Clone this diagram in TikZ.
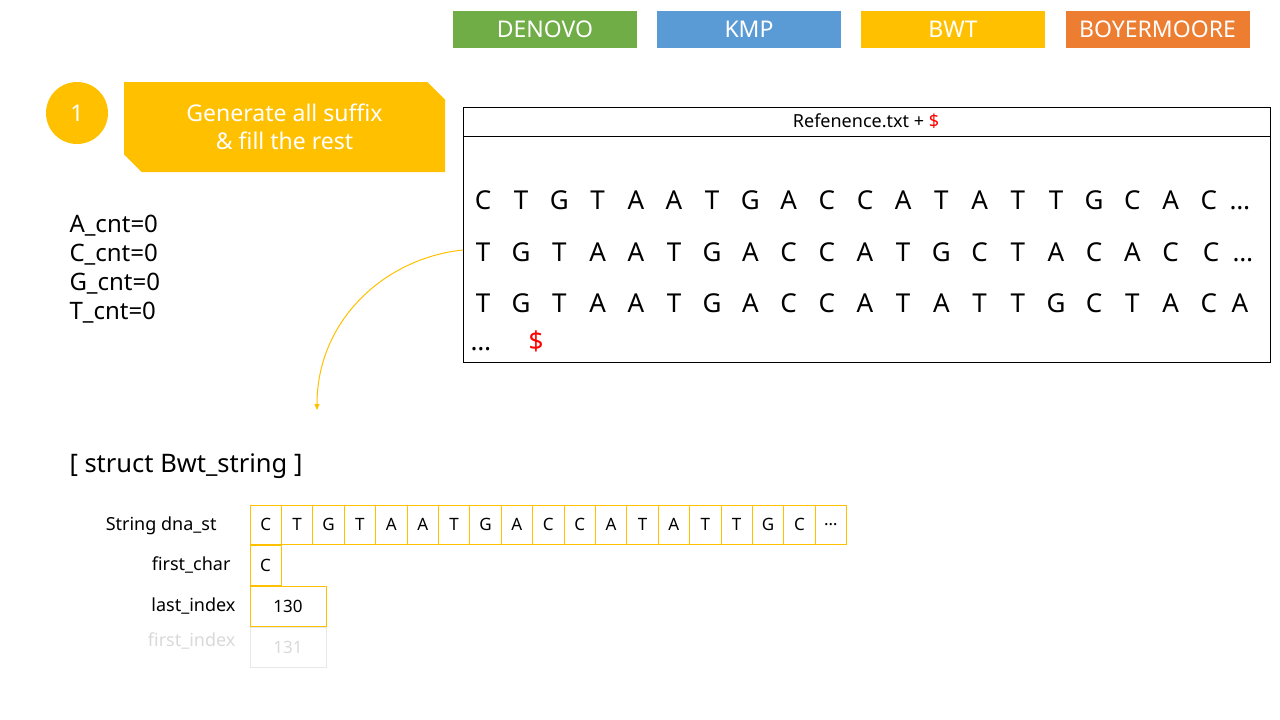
\documentclass[tikz,border=0pt]{standalone}
\usepackage{fontspec}
\setmainfont{Noto Sans}
\usetikzlibrary{shapes.misc,arrows.meta,positioning}
\definecolor{dngreen}{HTML}{70AD47}
\definecolor{kmpblue}{HTML}{5B9BD5}
\definecolor{bwtyellow}{HTML}{FFC000}
\definecolor{bmorange}{HTML}{ED7D31}
\definecolor{fadegray}{HTML}{D9D9D9}
\tikzset{
tab/.style={fill=#1, text=white, minimum width=184pt, minimum height=37pt,
	inner sep=0pt, font=\fontsize{23}{27}\selectfont},
seq/.style={anchor=base, inner sep=0pt, font=\fontsize{26}{30}\selectfont},
cell/.style={draw=bwtyellow, line width=1pt, minimum height=39pt, inner sep=0pt,
	font=\fontsize{17}{20}\selectfont},
fieldname/.style={anchor=base east, inner sep=0pt, font=\fontsize{18}{21}\selectfont}
}
\newcommand{\reddollar}{\textcolor{red}{\$}}

\begin{document}
\begin{tikzpicture}[x=1pt, y=-1pt, line width=1pt]
	\useasboundingbox (0,0) rectangle (1280,720);
	\node[tab=dngreen] (denovo) at (545,29.5) {DENOVO};
	\node[tab=kmpblue] (kmp) at (749,29.5) {KMP};
	\node[tab=bwtyellow] (bwt) at (953,29.5) {BWT};
	\node[tab=bmorange] (boyer) at (1157.5,29.5) {BOYERMOORE};

	\node[circle, fill=bwtyellow, text=white, minimum size=62pt, inner sep=0pt,
		font=\fontsize{23}{27}\selectfont] (step1) at (77,113) {1};
	\node[chamfered rectangle, chamfered rectangle corners={north east,south west},
		chamfered rectangle xsep=14pt, fill=bwtyellow, text=white, minimum width=321pt,
		minimum height=90pt, inner sep=0pt, align=center,
		font=\fontsize{23}{28}\selectfont] (gen) at (284.5,127)
		{Generate all suffix\\ \& fill the rest};

	\foreach \lbl [count=\i] in {A,C,G,T}
		\node[anchor=base west, inner sep=0pt, font=\fontsize{24}{28}\selectfont]
			(cnt\lbl) at (69,203+29*\i) {\lbl\_cnt=0};

	\draw[line width=0.8pt] (463,107) rectangle (1270,362);
	\draw[line width=0.8pt] (463,136) -- (1270,136);
	\node[font=\fontsize{18}{22}\selectfont, inner sep=0pt] (head) at (866,121)
		{Refenence.txt + \reddollar};
	\foreach \ch [count=\i] in {C,T,G,T,A,A,T,G,A,C,C,A,T,A,T,T,G,C,A,C}
		\node[seq] (ra\i) at (483+38.2*\i-38.2,209.5) {\ch};
	\node[seq] (radots) at (1240,209.5) {…};
	\foreach \ch [count=\i] in {T,G,T,A,A,T,G,A,C,C,A,T,G,C,T,A,C,A,C}
		\node[seq] (rb\i) at (483+38.2*\i-38.2,261) {\ch};
	\node[seq] (rb20) at (1211,261) {C};
	\node[seq] (rbdots) at (1243,261) {…};
	\foreach \ch [count=\i] in {T,G,T,A,A,T,G,A,C,C,A,T,A,T,T,G,C,T,A,C}
		\node[seq] (rc\i) at (483+38.2*\i-38.2,312) {\ch};
	\node[seq] (rc21) at (1240,312) {A};
	\node[seq] (rddots) at (481,350) {…};
	\node[seq, text=red] (rdend) at (536,350) {\$};

	\coordinate (from) at (463,250);
	\coordinate (to) at (317,410);
	\draw[bwtyellow, -{Triangle[length=6pt,width=5pt]}]
		(from) .. controls (385,258) and (317,320) .. (to);

	\node[anchor=base west, inner sep=0pt, font=\fontsize{25.5}{30}\selectfont]
		(title) at (69,472) {[ struct Bwt\_string ]};

	\node[fieldname] (fdna) at (217,530) {String dna\_st};
	\node[fieldname] (ffirst) at (231,570) {first\_char};
	\node[fieldname] (flast) at (236,611) {last\_index};
	\node[fieldname, text=fadegray] (ffidx) at (236,646) {first\_index};

	\foreach \ch [count=\i] in {C,T,G,T,A,A,T,G,A,C,C,A,T,A,T,T,G,C,…}
		\node[cell, minimum width=31.4pt] (dna\i) at (250+31.4*\i-15.7,524.5) {\ch};
	\node[cell, minimum width=31pt, minimum height=40pt] (fchar) at (265.5,565) {C};
	\node[cell, minimum width=76pt, minimum height=40pt] (lidx) at (288,606) {130};
	\node[cell, draw=fadegray!60, text=fadegray, minimum width=76pt, minimum height=40pt]
		(fidx) at (288,647) {131};
\end{tikzpicture}
\end{document}
